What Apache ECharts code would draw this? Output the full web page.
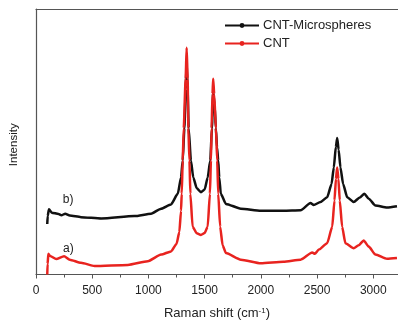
<!DOCTYPE html>
<html>
<head>
<meta charset="utf-8">
<script src="https://cdn.jsdelivr.net/npm/echarts@6/dist/echarts.min.js"></script>
<style>
  html, body { margin: 0; padding: 0; background: #fff; }
  #chart { width: 398px; height: 325px; }
</style>
</head>
<body>
<div id="chart"></div>
<script>
// Raman spectra, [shift cm-1, intensity a.u.]
const microspheres = [
  [100, 19.0], [104, 22.0], [115, 24.6], [140, 23.3], [200, 22.8], [226, 22.3], [260, 22.9],
  [300, 22.2], [400, 21.6], [581, 21.1], [876, 22.0], [1024, 22.9], [1113, 24.8], [1201, 26.4],
  [1261, 30.4], [1290, 36.5], [1305, 42.9], [1320, 55.1], [1332, 70.0], [1340, 80.4], [1348, 70.0],
  [1358, 55.1], [1378, 42.9], [1399, 36.5], [1430, 32.5], [1467, 31.0], [1500, 32.0], [1527, 36.5],
  [1550, 42.9], [1565, 55.1], [1576, 68.7], [1588, 64.0], [1600, 55.1], [1610, 48.0], [1621, 42.9],
  [1630, 36.5], [1644, 30.4], [1689, 26.6], [1822, 24.8], [2000, 24.0], [2200, 24.0], [2354, 24.2],
  [2442, 26.9], [2470, 26.2], [2531, 27.3], [2590, 29.1], [2629, 34.1], [2649, 40.3], [2667, 48.0],
  [2679, 51.4], [2692, 47.0], [2708, 40.3], [2732, 34.1], [2768, 29.1], [2826, 27.3], [2880, 29.0],
  [2921, 30.4], [2960, 28.5], [3019, 26.0], [3122, 25.2], [3211, 25.7]
]
const cnt = [
  [100, 0], [103, 4.0], [110, 7.8], [125, 7.0], [180, 5.8], [250, 6.9], [300, 5.6], [400, 4.4],
  [521, 3.2], [817, 3.6], [995, 5.0], [1113, 7.5], [1201, 8.7], [1250, 11.5], [1275, 16.0],
  [1290, 24.0], [1296, 30.4], [1305, 42.9], [1314, 55.1], [1331, 73.7], [1340, 85.4], [1349, 73.7],
  [1355, 55.1], [1365, 42.9], [1373, 30.4], [1393, 18.0], [1430, 15.5], [1467, 14.9], [1500, 15.6],
  [1527, 18.0], [1547, 30.4], [1556, 42.9], [1562, 55.1], [1570, 68.0], [1576, 73.7], [1585, 68.0],
  [1600, 55.1], [1612, 42.9], [1621, 30.4], [1638, 18.0], [1660, 11.0], [1689, 8.1], [1822, 5.6],
  [2000, 4.2], [2200, 4.8], [2354, 5.6], [2457, 8.3], [2480, 7.8], [2516, 9.4], [2590, 11.8],
  [2635, 18.0], [2655, 27.9], [2668, 36.0], [2679, 40.3], [2690, 36.0], [2702, 27.9], [2723, 18.0],
  [2752, 11.8], [2826, 9.9], [2870, 11.0], [2915, 12.8], [2960, 10.5], [3019, 7.5], [3122, 5.9],
  [3211, 6.2]
]
const seriesNames = ['CNT-Microspheres', 'CNT']
const curveLabels = [['b)', 285, 28.1], ['a)', 288, 9.6]]

const FONT = '"Liberation Sans", Arial, sans-serif'
const AXIS = '#555'
const TEXT = '#222'

const chart = echarts.init(document.getElementById('chart'), null, { renderer: 'canvas' })

function spectrum(name, data, color, lbl) {
  return {
    name,
    type: 'line',
    data,
    symbol: 'circle',
    symbolSize: 4,
    showSymbol: false,
    smooth: 0.2,
    smoothMonotone: 'x',
    lineStyle: { color, width: 2.5 },
    itemStyle: { color },
    markPoint: {
      silent: true,
      symbol: 'circle',
      symbolSize: 0,
      label: { show: true, formatter: lbl[0], color: TEXT, fontSize: 12, fontFamily: FONT },
      data: [{ coord: [lbl[1], lbl[2]] }]
    }
  }
}

chart.setOption({
  animation: false,
  textStyle: { fontFamily: FONT },
  grid: { left: 35, right: 0, top: 9, bottom: 47 },
  legend: {
    orient: 'vertical',
    left: 219,
    top: 14,
    itemWidth: 34,
    itemHeight: 6,
    itemGap: 5,
    textStyle: { color: TEXT, fontSize: 13, fontFamily: FONT, padding: [0, 0, 0, -1] },
    data: seriesNames
  },
  xAxis: [{
    type: 'value',
    min: 0,
    max: 3220,
    interval: 500,
    name: 'Raman shift (cm{sup|-1})',
    nameLocation: 'middle',
    nameGap: 32,
    nameTextStyle: {
      color: TEXT, fontSize: 13, fontFamily: FONT,
      rich: { sup: { fontSize: 8, verticalAlign: 'top', padding: [0, 0, 6, 0], color: TEXT } }
    },
    axisLine: { lineStyle: { color: AXIS, width: 1.2 } },
    axisTick: { show: true, length: 4, lineStyle: { color: AXIS } },
    minorTick: { show: true, splitNumber: 2, length: 3, lineStyle: { color: AXIS } },
    axisLabel: {
      color: TEXT, fontSize: 12, fontFamily: FONT, margin: 10,
      showMaxLabel: false,
      formatter: v => String(v)
    },
    splitLine: { show: false }
  }, {
    type: 'value',
    position: 'top',
    min: 0,
    max: 3220,
    axisLine: { show: true, onZero: false, lineStyle: { color: AXIS, width: 1.2 } },
    axisTick: { show: false },
    axisLabel: { show: false },
    splitLine: { show: false }
  }],
  yAxis: {
    type: 'value',
    min: 0,
    max: 100,
    name: 'Intensity',
    nameLocation: 'middle',
    nameGap: 16,
    nameTextStyle: { color: TEXT, fontSize: 11.5, fontFamily: FONT, padding: [0, 6, 0, 0] },
    axisLine: { show: true, lineStyle: { color: AXIS, width: 1.2 } },
    axisTick: { show: false },
    axisLabel: { show: false },
    splitLine: { show: false }
  },
  series: [
    spectrum(seriesNames[0], microspheres, '#111', curveLabels[0]),
    spectrum(seriesNames[1], cnt, '#e8231f', curveLabels[1])
  ]
})
</script>
</body>
</html>
